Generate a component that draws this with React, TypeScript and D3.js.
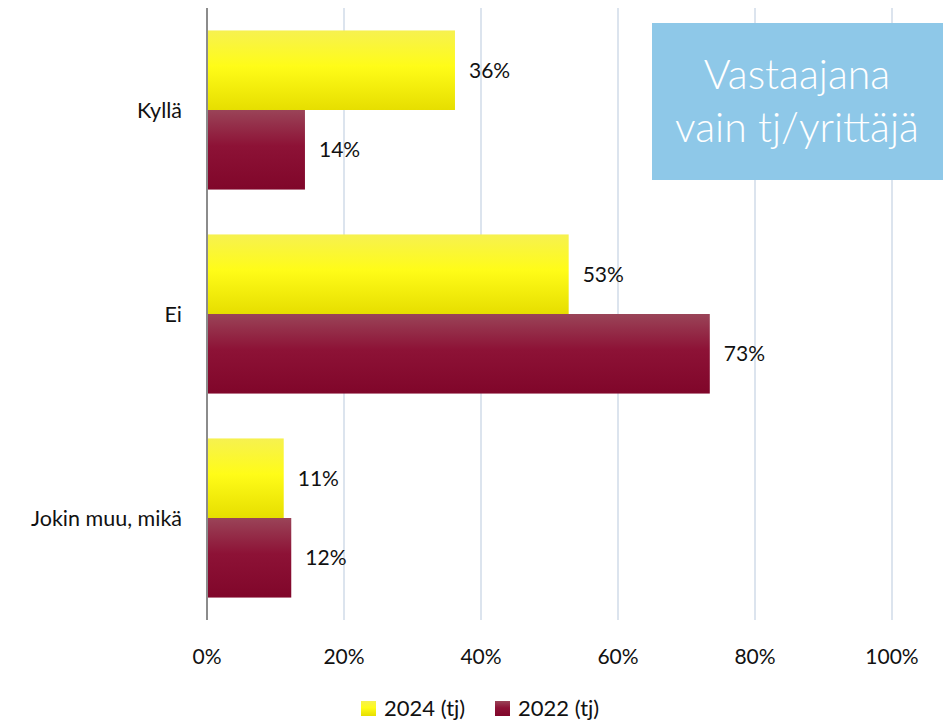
import React from "react";
import * as d3 from "d3";

const categories = ["Kyllä", "Ei", "Jokin muu, mikä"];
const series = ["2024 (tj)", "2022 (tj)"];
const values2024 = [36.2, 52.8, 11.2];
const values2022 = [14.3, 73.4, 12.3];
const ticks = [0, 20, 40, 60, 80, 100];
const boxLines = ["Vastaajana", "vain tj/yrittäjä"];

const W = 948, H = 721;
const FONT = "Lato, 'Open Sans', sans-serif";

export default function App() {
  const x = d3.scaleLinear().domain([0, 100]).range([207, 892]);
  const y = d3.scaleBand().domain(categories).range([8, 620]).paddingInner(0.22).paddingOuter(0.11);
  const y2 = d3.scaleBand().domain(series).range([0, y.bandwidth()]);
  const data = [values2024, values2022];
  const grads = ["gY", "gR"];
  return (
    <svg width={W} height={H} style={{ position: "absolute", left: 0, top: 0, background: "#fff" }} fontFamily={FONT}>
      <defs>
        <linearGradient id="gY" x1="0" y1="0" x2="0" y2="1">
          <stop offset="0" stopColor="#F6F150" />
          <stop offset="0.45" stopColor="#FFFC18" />
          <stop offset="1" stopColor="#E6DE00" />
        </linearGradient>
        <linearGradient id="gR" x1="0" y1="0" x2="0" y2="1">
          <stop offset="0" stopColor="#9A4458" />
          <stop offset="0.45" stopColor="#8D1236" />
          <stop offset="1" stopColor="#80062A" />
        </linearGradient>
      </defs>
      {ticks.slice(1).map((t) => (
        <line key={t} x1={x(t)} x2={x(t)} y1={8} y2={620} stroke="#DCE4EE" strokeWidth={2} />
      ))}
      {categories.map((c, i) =>
        series.map((s, j) => {
          const v = data[j][i];
          const yy = (y(c) as number) + (y2(s) as number);
          return (
            <g key={c + s}>
              <rect x={x(0)} y={yy} width={x(v) - x(0)} height={y2.bandwidth()} fill={`url(#${grads[j]})`} />
              <text x={x(v) + 14} y={yy + y2.bandwidth() / 2} dy="0.35em" fontSize={21} fill="#111">
                {Math.round(v)}%
              </text>
            </g>
          );
        })
      )}
      <line x1={x(0)} x2={x(0)} y1={8} y2={620} stroke="#8C8C8C" strokeWidth={2} />
      {categories.map((c) => (
        <text key={c} x={182} y={(y(c) as number) + y.bandwidth() / 2} dy="0.35em" textAnchor="end" fontSize={21.5} fill="#111">
          {c}
        </text>
      ))}
      {ticks.map((t) => (
        <text key={t} x={x(t)} y={657} dy="0.35em" textAnchor="middle" fontSize={21} fill="#111">
          {t}%
        </text>
      ))}
      <rect x={652} y={23} width={291} height={157} fill="#8EC8E8" />
      {boxLines.map((l, i) => (
        <text key={l} x={797} y={75 + i * 53} dy="0.35em" textAnchor="middle" fontSize={41} fill="#fff" fontWeight={300}>
          {l}
        </text>
      ))}
      {series.map((s, j) => {
        const lx = [361, 495][j];
        return (
          <g key={s}>
            <rect x={lx} y={701} width={15} height={15} fill={`url(#${grads[j]})`} />
            <text x={lx + 23} y={708} dy="0.35em" fontSize={22} fill="#111">{s}</text>
          </g>
        );
      })}
    </svg>
  );
}
